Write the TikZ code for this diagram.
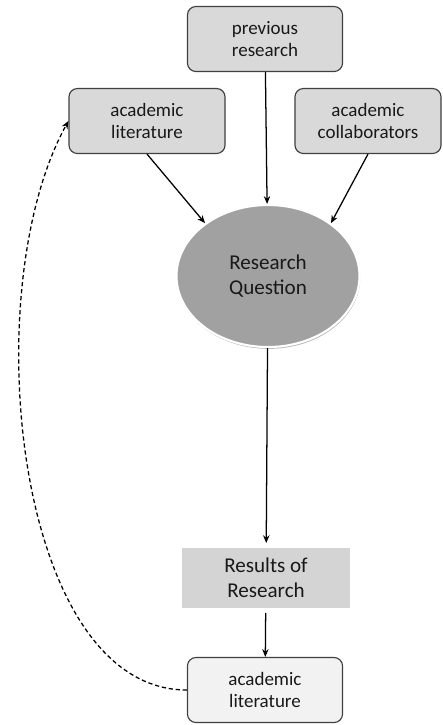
\documentclass[tikz,border=0pt]{standalone}
\usepackage{fontspec}
\setmainfont{Carlito}
\usetikzlibrary{arrows.meta, shapes.geometric, shadows}

\begin{document}
\begin{tikzpicture}[x=0.025cm, y=-0.025cm]
\useasboundingbox (0,0) rectangle (442,725);

\begin{scope}[every node/.style={rectangle,rounded corners=6pt,draw=black!75,line width=0.8pt,
            fill=black!15,align=center,text=black!90,font=\fontsize{13.5}{16}\selectfont,
            minimum height=1.625cm}]
    \node[minimum width=3.875cm] (prev)   at (265,39)  {previous\\research};
    \node[minimum width=3.9cm]   (lit)    at (147,121) {academic\\literature};
    \node[minimum width=3.65cm]  (collab) at (368,121) {academic\\collaborators};
    \node[minimum width=3.875cm,fill=black!5] (litout) at (265,690) {academic\\literature};
\end{scope}

\node[ellipse,fill=black!37,draw=white,line width=1.5pt,
      drop shadow={shadow xshift=0.5pt,shadow yshift=-1.3pt,opacity=0.55},
      minimum width=4.575cm,minimum height=3.55cm,align=center,text=black!90,
      font=\fontsize{15}{18}\selectfont] (rq) at (268,276) {Research\\Question};
\node[rectangle,fill=black!17,draw=white,line width=3.5pt,
      minimum width=4.325cm,minimum height=1.625cm,align=center,text=black!90,
      font=\fontsize{15}{18}\selectfont] (res) at (266,578) {Results of\\Research};

\begin{scope}[>={Stealth[black,length=5.5pt,width=4.5pt]},
            every edge/.style={draw=black,line width=0.9pt}]
    \path [->] (prev) edge (rq);
    \path [->] (lit.south) edge (rq.140);
    \path [->] (collab.south) edge (rq.40);
    \path [->] (rq) edge (res);
    \path [->] (res) edge (litout);
    \draw [->,line width=0.9pt,dash pattern=on 3pt off 2pt]
        (litout.west) .. controls (15,690) and (-25,290) .. (lit.west);
\end{scope}
\end{tikzpicture}
\end{document}
